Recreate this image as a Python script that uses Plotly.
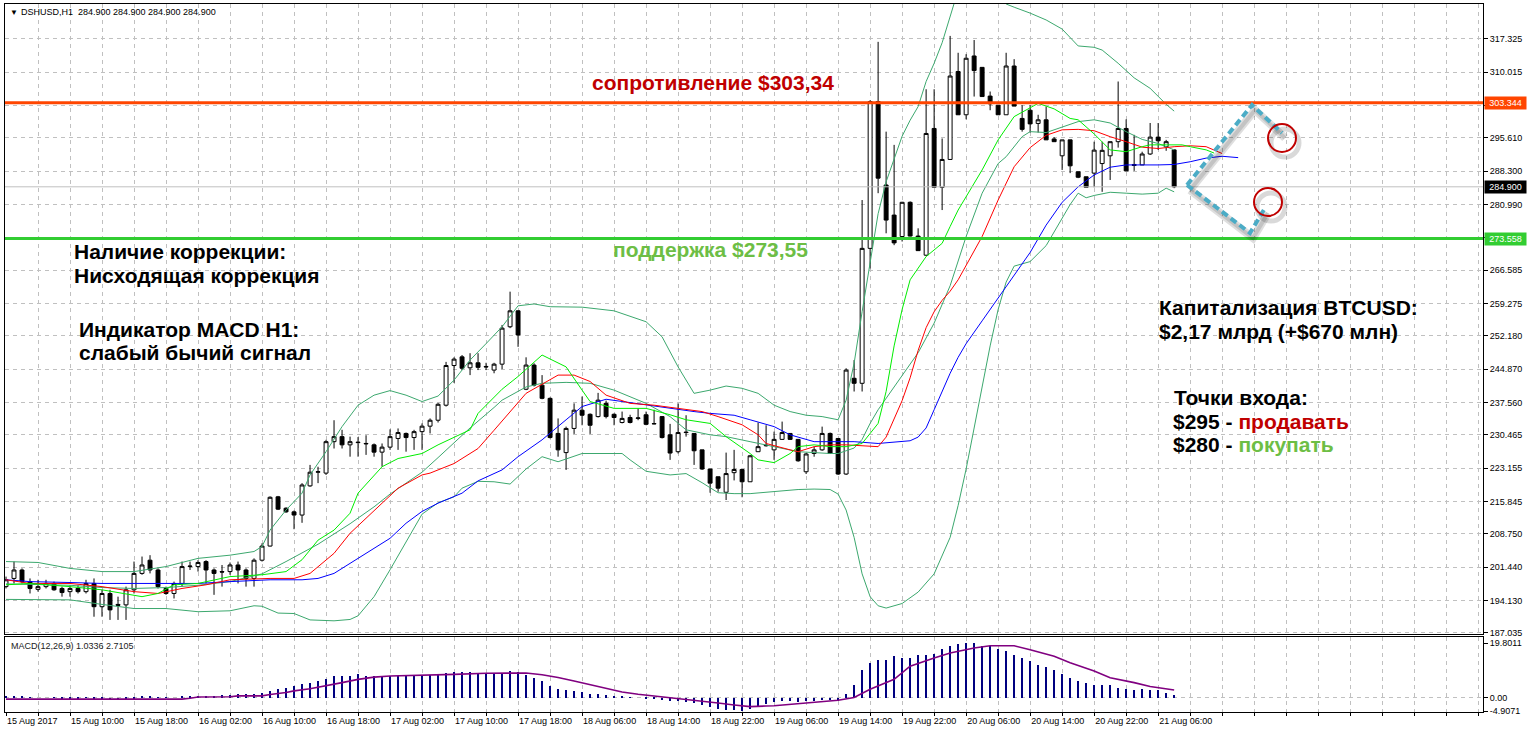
import plotly.graph_objects as go

# ---------------- DATA ----------------
OPEN = [197.2, 199.0, 200.85, 198.3, 196.6, 197.2, 197.9, 196.8, 196.1, 196.8,
        196.1, 197.9, 192.8, 195.7, 193.3, 193.2, 196.5, 200.1, 203.0, 200.85,
        196.8, 195.7, 197.9, 201.6, 201.6, 202.7, 200.85, 200.5, 200.5, 201.95,
        200.85, 199.0, 203.0, 206.1, 216.9, 214.4, 213.6, 212.9, 219.3, 222.3,
        222.1, 229.0, 230.1, 228.3, 228.9, 228.5, 228.3, 226.7, 227.8, 229.7,
        230.8, 229.9, 231.2, 232.4, 233.7, 237.0, 245.7, 247.6, 245.2, 246.3,
        245.5, 244.7, 246.0, 254.2, 257.7, 240.5, 245.8, 241.4, 238.5, 230.8,
        226.6, 231.9, 235.9, 235.0, 234.5, 237.4, 235.0, 233.2, 234.3, 234.1,
        234.9, 232.9, 234.5, 230.5, 226.8, 231.1, 230.8, 227.2, 223.0, 221.3,
        217.9, 222.2, 222.9, 220.2, 226.8, 228.1, 227.2, 229.5, 230.8, 229.5,
        222.4, 226.4, 227.2, 230.8, 229.7, 221.9, 242.9, 241.8, 271.4, 303.6,
        285.3, 278.7, 274.0, 281.5, 274.1, 269.9, 297.7, 284.8, 290.9, 310.2,
        300.7, 313.6, 311.1, 304.8, 302.8, 300.7, 311.4, 299.9, 301.7, 298.8,
        299.6, 295.4, 291.7, 295.2, 288.2, 287.1, 287.9, 290.0, 291.7, 294.8,
        297.7, 289.8, 289.7, 292.1, 295.8, 293.7, 293.0]
HIGH = [199.4, 202.7, 201.2, 199.0, 198.7, 198.7, 198.3, 197.2, 197.5, 197.5,
        198.7, 199.0, 196.5, 196.5, 195.0, 197.2, 202.7, 203.8, 204.1, 201.2,
        197.2, 198.3, 202.7, 202.7, 203.0, 203.0, 201.2, 201.95, 202.5, 202.7,
        201.2, 203.4, 206.7, 217.0, 217.1, 214.6, 213.9, 219.9, 223.9, 223.5,
        229.4, 233.7, 231.6, 230.1, 230.0, 230.4, 228.6, 228.6, 231.7, 231.9,
        231.0, 231.6, 233.0, 234.1, 237.5, 246.5, 247.5, 248.0, 248.4, 248.4,
        246.3, 246.3, 254.6, 261.9, 257.8, 247.5, 246.2, 243.6, 238.7, 234.1,
        232.3, 237.4, 238.9, 235.2, 239.7, 238.0, 235.2, 235.6, 234.9, 236.3,
        235.6, 236.0, 234.6, 232.9, 237.4, 234.8, 230.8, 227.2, 223.0, 221.3,
        226.6, 227.2, 222.9, 226.1, 233.2, 232.6, 231.2, 233.4, 230.8, 229.5,
        226.5, 227.9, 232.3, 231.0, 229.7, 245.1, 246.9, 282.0, 303.9, 316.7,
        297.0, 294.1, 281.6, 281.7, 275.8, 306.3, 306.3, 295.5, 318.0, 314.3,
        314.0, 317.1, 311.1, 305.8, 302.8, 314.3, 312.9, 302.8, 302.8, 300.7,
        302.5, 295.8, 295.2, 295.2, 288.2, 287.1, 294.8, 294.8, 294.8, 308.0,
        299.7, 296.3, 292.6, 298.9, 298.9, 295.2, 293.1]
LOW = [196.8, 197.9, 197.9, 195.7, 196.1, 196.8, 196.3, 195.0, 195.0, 195.7,
       195.7, 190.6, 190.6, 189.9, 189.9, 189.9, 195.7, 199.8, 200.1, 196.8,
       195.4, 194.6, 197.2, 200.85, 200.5, 197.9, 195.4, 197.2, 199.8, 197.9,
       197.2, 197.2, 202.7, 206.0, 214.0, 213.4, 209.8, 211.2, 219.1, 219.9,
       221.7, 227.5, 227.5, 225.7, 225.7, 226.1, 225.7, 223.5, 227.2, 227.2,
       226.8, 227.2, 227.2, 230.8, 233.2, 236.7, 241.9, 244.7, 243.6, 244.7,
       244.7, 244.0, 244.9, 253.9, 249.8, 240.3, 241.1, 238.3, 229.7, 225.7,
       222.8, 230.7, 232.6, 230.7, 234.3, 234.1, 232.6, 233.0, 233.0, 233.7,
       232.6, 232.8, 229.7, 225.0, 226.4, 230.1, 223.9, 222.8, 217.8, 218.0,
       216.2, 220.5, 216.8, 220.2, 226.8, 227.9, 225.0, 229.4, 229.4, 224.6,
       221.9, 225.7, 227.0, 226.3, 221.7, 221.7, 240.0, 240.0, 267.0, 283.5,
       274.7, 272.1, 272.9, 274.0, 270.9, 269.7, 284.8, 279.8, 290.8, 300.7,
       299.7, 304.7, 304.7, 301.7, 300.7, 300.7, 302.6, 297.0, 296.8, 296.8,
       295.2, 294.8, 288.6, 287.9, 286.8, 284.8, 284.8, 283.8, 286.4, 293.5,
       288.4, 288.4, 289.7, 291.9, 293.0, 292.8, 284.6]
CLOSE = [198.7, 200.85, 198.3, 196.8, 197.2, 197.9, 196.5, 195.9, 196.8, 196.1,
         197.9, 192.8, 195.7, 192.1, 193.1, 196.5, 200.1, 201.95, 200.85, 197.2,
         195.7, 197.9, 201.6, 201.7, 202.5, 200.85, 200.1, 200.4, 201.95, 200.85,
         199.0, 203.0, 206.1, 216.8, 214.2, 213.6, 212.9, 219.5, 222.3, 222.4,
         229.0, 230.1, 228.3, 229.0, 228.8, 228.6, 226.7, 227.8, 230.1, 231.0,
         229.9, 231.2, 232.4, 233.7, 237.2, 245.7, 247.1, 245.1, 246.3, 245.3,
         245.4, 246.0, 253.9, 257.7, 252.4, 245.8, 241.4, 238.5, 229.9, 227.2,
         231.9, 235.9, 234.8, 232.6, 238.1, 234.5, 234.3, 234.1, 233.2, 234.2,
         232.8, 232.95, 229.9, 226.5, 231.0, 231.0, 227.0, 223.0, 219.9, 218.8,
         222.0, 222.9, 220.2, 225.9, 227.9, 228.2, 229.5, 231.0, 229.5, 224.8,
         226.3, 227.2, 230.8, 226.4, 221.9, 244.7, 241.8, 271.4, 303.6, 286.8,
         277.6, 272.6, 281.5, 274.1, 270.9, 296.6, 284.8, 290.9, 309.2, 300.7,
         313.1, 310.4, 304.7, 303.1, 300.7, 311.4, 302.6, 297.5, 298.7, 299.6,
         295.2, 294.8, 295.2, 289.5, 287.0, 284.8, 292.95, 292.9, 294.8, 297.7,
         288.4, 289.6, 292.1, 295.8, 295.0, 294.8, 284.9]
BARS = list(range(len(CLOSE)))

# Bollinger Bands (upper / middle / lower), sampled at bar indices
BB_UP_X = [0, 4, 8, 12, 16, 20, 24, 28, 31, 32, 33, 35, 37, 38, 40, 42, 44, 46, 48, 50,
           52, 54, 56, 58, 60, 62, 64, 66, 68, 72, 76, 80, 82, 84, 86, 88, 90, 92, 94, 96,
           98, 100, 102, 104, 105, 106, 107, 108, 109, 110, 111, 112, 113, 114, 115, 116, 117,
           118, 119, 120, 122, 124, 125, 126, 128, 130, 132, 134, 136, 137, 139, 141, 143, 145, 146]
BB_UP_Y = [202.7, 202.5, 201.2, 200.5, 200.5, 201.6, 203.4, 204.1, 204.9, 206.0, 209.6, 214.0,
           217.7, 221.7, 226.8, 232.3, 237.0, 239.2, 240.2, 239.2, 237.8, 239.0, 242.5, 246.9,
           250.5, 254.2, 258.8, 259.2, 258.6, 258.5, 257.7, 255.3, 252.0, 245.4, 239.6, 240.3,
           241.2, 240.7, 239.6, 237.0, 235.6, 234.8, 234.5, 233.8, 238.1, 246.2, 257.5, 268.0,
           279.0, 286.0, 291.0, 296.0, 299.5, 302.5, 308.0, 312.0, 316.5, 322.0, 328.0, 331.0,
           331.0, 328.0, 325.0, 324.3, 323.0, 321.5, 319.5, 315.8, 315.5, 314.9, 312.0, 308.8,
           306.5, 303.0, 301.5]
BB_MID_X = [0, 4, 8, 12, 16, 20, 24, 28, 32, 35, 39, 43, 46, 48, 52, 54, 58, 61, 62, 65,
            67, 70, 73, 76, 80, 83, 85, 88, 90, 93, 96, 99, 103, 104, 105, 106, 107, 108, 109,
            110, 112, 114, 116, 118, 120, 122, 124, 125, 127, 128, 130, 132, 134, 136, 138, 140,
            142, 144, 146]
BB_MID_Y = [197.8, 197.7, 197.5, 197.0, 196.8, 197.0, 197.5, 198.3, 200.0, 202.7, 206.5, 211.0,
            214.7, 217.5, 222.3, 225.5, 232.0, 236.5, 238.1, 241.0, 241.8, 242.0, 241.8, 240.3,
            237.4, 234.5, 231.6, 230.5, 230.1, 229.0, 227.9, 226.8, 226.4, 226.4, 227.0, 227.6,
            229.5, 233.0, 236.0, 238.5, 243.5, 248.5, 255.0, 263.2, 274.0, 283.5, 290.0, 291.5,
            295.9, 297.0, 296.8, 298.0, 299.2, 299.6, 298.9, 297.0, 295.3, 294.4, 293.0]
BB_LOW_X = [0, 4, 8, 12, 16, 20, 24, 28, 31, 32, 34, 36, 38, 41, 43, 44, 46, 48, 50, 52,
            54, 56, 57, 59, 61, 63, 65, 67, 69, 72, 77, 78, 80, 83, 85, 87, 89, 91, 93, 95,
            97, 99, 101, 103, 104, 105, 106, 107, 108, 109, 110, 112, 114, 116, 118, 119, 120,
            121, 122, 123, 124, 125, 126, 128, 130, 132, 133, 134, 135, 136, 138, 140, 142, 144,
            145, 146]
BB_LOW_Y = [194.4, 194.4, 194.3, 193.3, 192.4, 192.4, 191.7, 191.9, 193.0, 192.9, 191.4, 191.3,
            189.9, 189.7, 190.0, 190.8, 195.0, 200.9, 207.1, 213.1, 215.6, 216.9, 218.8, 220.3,
            220.2, 219.7, 223.0, 225.7, 224.6, 226.4, 226.4, 225.0, 222.5, 221.7, 222.0, 220.0,
            217.8, 217.6, 217.6, 217.9, 218.2, 218.5, 218.6, 218.5, 217.5, 214.0, 208.0, 200.0,
            195.0, 193.0, 192.5, 193.5, 196.0, 200.0, 208.0, 215.0, 223.0, 232.0, 241.0, 250.0,
            258.0, 264.0, 267.5, 268.5, 272.0, 278.0, 281.0, 283.5, 282.5, 283.0, 283.7, 283.5,
            283.3, 283.5, 284.6, 283.8]

# Alligator: lips (lime), teeth (red), jaw (blue) — shifted forward
LIPS_X = [0, 3, 8, 12, 17, 19, 21, 24, 28, 32, 35, 37, 39, 41, 43, 44, 47, 49, 52, 54,
          58, 59, 62, 64, 67, 70, 72, 73, 76, 80, 83, 85, 88, 90, 93, 94, 96, 98, 99, 101,
          103, 105, 107, 109, 110, 111, 112, 113, 115, 117, 118, 119, 122, 124, 126, 129, 131,
          133, 134, 136, 138, 140, 142, 143, 145, 147, 148, 150, 151]
LIPS_Y = [197.6, 197.9, 197.2, 196.5, 195.0, 195.7, 197.6, 197.9, 199.4, 199.8, 200.5, 203.1,
          207.4, 209.6, 213.3, 217.7, 223.5, 225.3, 226.4, 228.3, 231.6, 235.2, 240.5, 243.3,
          248.0, 245.4, 240.3, 237.8, 236.3, 236.3, 234.9, 233.8, 233.0, 230.1, 226.4, 225.0,
          224.4, 226.4, 227.9, 228.3, 227.9, 227.9, 228.6, 233.0, 240.0, 250.0, 258.0, 264.5,
          269.6, 272.5, 276.2, 279.8, 288.6, 295.2, 300.3, 303.2, 302.0, 299.9, 299.6, 296.5,
          293.0, 292.6, 293.7, 294.1, 294.1, 294.1, 293.7, 293.0, 292.3]
TEETH_X = [0, 3, 8, 12, 16, 19, 22, 25, 28, 33, 36, 38, 41, 43, 47, 49, 52, 53, 56, 59,
           61, 63, 65, 69, 71, 73, 75, 78, 81, 84, 87, 89, 92, 94, 95, 98, 99, 101, 103, 105,
           109, 110, 111, 112, 113, 114, 115, 116, 117, 118, 119, 122, 124, 126, 128, 130, 132,
           134, 136, 138, 140, 142, 144, 146, 148, 150, 152]
TEETH_Y = [198.7, 197.9, 197.9, 197.2, 196.1, 195.7, 196.8, 197.6, 198.7, 199.0, 199.0, 200.1,
           204.5, 208.9, 215.5, 218.8, 221.7, 222.1, 224.2, 227.5, 231.5, 235.5, 239.6, 243.6,
           243.6, 242.2, 239.2, 237.4, 237.0, 236.3, 235.6, 234.5, 232.7, 230.5, 228.6, 227.2,
           226.8, 227.9, 228.3, 228.3, 227.9, 230.0, 234.0, 238.0, 243.0, 249.0, 254.0, 257.5,
           260.0, 262.0, 264.5, 274.0, 282.0, 289.3, 293.5, 296.2, 297.4, 297.5, 297.2, 295.9,
           294.8, 293.6, 293.3, 293.7, 293.9, 293.7, 292.2]
JAW_X = [0, 3, 8, 12, 16, 20, 24, 28, 33, 37, 39, 41, 45, 48, 50, 52, 54, 57, 59, 62,
         64, 67, 70, 72, 75, 77, 80, 83, 86, 88, 91, 93, 96, 98, 101, 103, 106, 109, 113, 114,
         115, 116, 117, 118, 119, 120, 122, 124, 126, 128, 130, 132, 134, 136, 138, 140, 144,
         146, 148, 150, 152, 154]
JAW_Y = [198.7, 198.3, 198.1, 197.9, 197.9, 197.9, 197.9, 198.3, 198.7, 198.7, 199.0, 200.1,
         204.5, 207.8, 211.1, 213.7, 215.5, 217.7, 220.4, 222.8, 225.7, 229.4, 233.8, 236.7,
         238.3, 237.8, 237.0, 236.3, 235.6, 235.2, 234.8, 233.8, 232.3, 230.5, 229.0, 229.0,
         229.0, 228.6, 229.2, 230.0, 232.0, 236.0, 240.0, 244.0, 247.5, 250.5, 255.5, 260.5,
         265.5, 270.5, 276.5, 281.5, 284.9, 287.5, 289.2, 289.7, 289.7, 289.8, 290.4, 291.2,
         291.6, 291.3]

# MACD(12,26,9): histogram per bar + signal line
MACD_HIST = [0.3, 0.4, 0.3, 0.1, 0.0, 0.0, -0.1, -0.2, -0.2, -0.2,
             -0.1, -0.5, -0.6, -0.8, -0.8, -0.6, -0.2, 0.2, 0.3, 0.1,
             -0.1, 0.0, 0.3, 0.5, 0.6, 0.6, 0.6, 0.8, 1.0, 1.2,
             1.4, 1.4, 1.8, 2.4, 3.0, 3.6, 4.2, 4.8, 5.4, 6.0,
             6.6, 7.8, 8.0, 8.0, 8.4, 7.8, 7.8, 7.8, 7.8, 7.9,
             8.0, 8.1, 8.2, 8.3, 8.5, 9.0, 9.3, 9.2, 9.1, 8.9,
             8.6, 8.5, 9.0, 9.5, 9.2, 8.2, 7.2, 6.0, 4.3, 3.0,
             2.6, 2.3, 1.9, 1.4, 1.3, 0.9, 0.6, 0.3, 0.1, 0.0,
             -0.3, -0.5, -0.9, -1.4, -1.4, -1.5, -1.9, -2.6, -3.5, -4.2,
             -4.5, -4.4, -4.9, -4.3, -3.5, -2.5, -1.6, -1.4, -1.3, -1.5,
             -1.4, -1.1, -0.8, -0.8, -1.1, 1.2, 4.4, 9.9, 12.6, 13.8,
             13.8, 15.0, 14.4, 14.2, 15.6, 15.6, 16.0, 17.6, 18.6, 19.6,
             19.8, 19.8, 18.8, 18.6, 17.6, 17.0, 15.6, 14.4, 13.4, 12.0,
             11.0, 9.9, 8.4, 7.0, 6.0, 5.4, 4.4, 4.4, 4.4, 3.6,
             3.0, 2.6, 3.0, 2.6, 2.6, 1.6, 1.03]
SIGNAL_X = [0, 11, 12, 19, 20, 22, 23, 24, 28, 29, 32, 33, 35, 36, 38, 40, 42, 44, 46, 48,
            52, 56, 60, 63, 65, 67, 69, 71, 73, 75, 77, 79, 81, 83, 85, 87, 89, 91, 93, 95,
            96, 100, 104, 106, 108, 111, 113, 116, 118, 121, 123, 126, 128, 131, 133, 136,
            138, 141, 143, 146]
SIGNAL_Y = [-0.6, -0.6, -0.84, -0.84, -0.6, -0.6, -0.25, 0.2, 0.25, 0.6, 0.6, 1.1, 1.8, 2.4,
            3.2, 4.2, 5.4, 6.6, 7.4, 7.8, 8.0, 8.4, 8.8, 9.0, 8.9, 8.3, 7.3, 6.0, 4.6, 3.2,
            2.0, 1.2, 0.6, -0.1, -0.7, -1.2, -2.0, -2.7, -3.3, -3.1, -3.0, -2.0, -1.0, 0.0,
            3.0, 6.6, 11.4, 14.4, 16.2, 18.0, 18.8, 18.8, 17.4, 15.0, 12.6, 9.6, 7.2, 5.4,
            4.0, 2.71]

PRICE_TICKS = [317.325, 310.015, 302.705, 295.610, 288.300, 280.990, 273.680, 266.585,
               259.275, 252.180, 244.870, 237.560, 230.465, 223.155, 215.845, 208.750,
               201.440, 194.130, 187.035]
TIME_LABELS = ["15 Aug 2017", "15 Aug 10:00", "15 Aug 18:00", "16 Aug 02:00", "16 Aug 10:00",
               "16 Aug 18:00", "17 Aug 02:00", "17 Aug 10:00", "17 Aug 18:00", "18 Aug 06:00",
               "18 Aug 14:00", "18 Aug 22:00", "19 Aug 06:00", "19 Aug 14:00", "19 Aug 22:00",
               "20 Aug 06:00", "20 Aug 14:00", "20 Aug 22:00", "21 Aug 06:00"]
LABEL_STEP = 8
GRID_STEP = 4

RESISTANCE = 303.344
SUPPORT = 273.558
LAST_PRICE = 284.900
MACD_MAX = 19.8011
MACD_MIN = -4.9071
MACD_VALS = (1.0336, 2.7105)

# ---------------- GEOMETRY ----------------
W, H = 1528, 736
PL, PR, PT, PB = 5, 1483, 4, 712
MAIN_BOT = 634
MACD_TOP = 637
X_MIN, X_MAX = -0.125, 184.6
Y_MIN, Y_MAX = 186.81, 325.0
M_MIN, M_MAX = -5.27, 22.0
FONT = "Liberation Sans, Arial, sans-serif"


def xp(px):
    return (px - PL) / (PR - PL)


def yp(py):
    return (PB - py) / (PB - PT)


def bar_at(px):
    return X_MIN + (px - PL) / (PR - PL) * (X_MAX - X_MIN)


def price_at(py):
    return Y_MAX - (py - PT) / (MAIN_BOT - PT) * (Y_MAX - Y_MIN)


fig = go.Figure()

fig.add_trace(go.Candlestick(
    x=BARS, open=OPEN, high=HIGH, low=LOW, close=CLOSE,
    increasing=dict(line=dict(color="black", width=1), fillcolor="white"),
    decreasing=dict(line=dict(color="black", width=1), fillcolor="black"),
    whiskerwidth=0, hoverinfo="skip", xaxis="x", yaxis="y"))

BB_COL = "#3CA86E"
for xs, ys, col in [(BB_UP_X, BB_UP_Y, BB_COL), (BB_MID_X, BB_MID_Y, BB_COL),
                    (BB_LOW_X, BB_LOW_Y, BB_COL), (JAW_X, JAW_Y, "#0000FF"),
                    (TEETH_X, TEETH_Y, "#FF0000"), (LIPS_X, LIPS_Y, "#00EE00")]:
    fig.add_trace(go.Scatter(x=xs, y=ys, mode="lines", line=dict(color=col, width=1),
                             hoverinfo="skip", xaxis="x", yaxis="y"))

fig.add_trace(go.Bar(x=BARS, y=MACD_HIST, width=0.14, marker=dict(color="#000080", line=dict(width=0)),
                     hoverinfo="skip", xaxis="x2", yaxis="y2"))
fig.add_trace(go.Scatter(x=SIGNAL_X, y=SIGNAL_Y, mode="lines", line=dict(color="#800080", width=1.6),
                         hoverinfo="skip", xaxis="x2", yaxis="y2"))

grid_vals = list(range(0, int(X_MAX) + 1, GRID_STEP))
grid_text = []
for v in grid_vals:
    k = v // LABEL_STEP
    grid_text.append(TIME_LABELS[k] if v % LABEL_STEP == 0 and k < len(TIME_LABELS) else "")

shapes = []
# price level lines
shapes.append(dict(type="line", xref="paper", yref="y", x0=0, x1=1, y0=LAST_PRICE, y1=LAST_PRICE,
                   line=dict(color="#C0C0C0", width=1), layer="above"))
shapes.append(dict(type="line", xref="paper", yref="y", x0=0, x1=1, y0=RESISTANCE, y1=RESISTANCE,
                   line=dict(color="#FF4500", width=3), layer="above"))
shapes.append(dict(type="line", xref="paper", yref="y", x0=0, x1=1, y0=SUPPORT, y1=SUPPORT,
                   line=dict(color="#32CD32", width=3), layer="above"))
# MACD zero grid line
shapes.append(dict(type="line", xref="x2", yref="y2", x0=X_MIN, x1=X_MAX, y0=0, y1=0,
                   line=dict(color="#C0C0C0", width=1, dash="4px,4px"), layer="below"))

# dashed arrows (pixel geometry of the drawing) with soft shadow
ARROWS_PX = [[(1187, 185), (1252, 105), (1282, 133)],
             [(1187, 185), (1250, 233), (1265, 208)]]
CIRCLES_PX = [(1282, 138), (1268, 202)]
CIRCLE_R = 14


def path_of(pts, dx=0, dy=0):
    return "M " + " L ".join(f"{bar_at(px + dx)},{price_at(py + dy)}" for px, py in pts)


for pts in ARROWS_PX:
    shapes.append(dict(type="path", xref="x", yref="y", path=path_of(pts, 3, 5),
                       line=dict(color="rgba(0,0,0,0.13)", width=8)))
    shapes.append(dict(type="path", xref="x", yref="y", path=path_of(pts, 3, 5),
                       line=dict(color="rgba(0,0,0,0.12)", width=4)))
for cx, cy in CIRCLES_PX:
    shapes.append(dict(type="circle", xref="x", yref="y",
                       x0=bar_at(cx - CIRCLE_R + 3), x1=bar_at(cx + CIRCLE_R + 3),
                       y0=price_at(cy + CIRCLE_R + 5), y1=price_at(cy - CIRCLE_R + 5),
                       line=dict(color="rgba(0,0,0,0.15)", width=5)))
for pts in ARROWS_PX:
    shapes.append(dict(type="path", xref="x", yref="y", path=path_of(pts),
                       line=dict(color="#4BACC6", width=4, dash="7px,4px")))
for cx, cy in CIRCLES_PX:
    shapes.append(dict(type="circle", xref="x", yref="y",
                       x0=bar_at(cx - CIRCLE_R), x1=bar_at(cx + CIRCLE_R),
                       y0=price_at(cy + CIRCLE_R), y1=price_at(cy - CIRCLE_R),
                       line=dict(color="#C00000", width=2)))

RED = "#C00000"
GREEN = "#6DBE45"


def txt(px, py, text, size=21, color="black", bold=True):
    return dict(xref="paper", yref="paper", x=xp(px), y=yp(py), xanchor="left", yanchor="middle",
                text=f"<b>{text}</b>" if bold else text, showarrow=False,
                font=dict(family=FONT, size=size, color=color))


annotations = [
    txt(8, 12, "▼", size=8, bold=False),
    txt(19, 12, f"DSHUSD,H1  {LAST_PRICE:.3f} {LAST_PRICE:.3f} {LAST_PRICE:.3f} {LAST_PRICE:.3f}",
        size=9, bold=False),
    txt(9, 646, f"MACD(12,26,9) {MACD_VALS[0]:.4f} {MACD_VALS[1]:.4f}", size=9, color="#222", bold=False),
    txt(590, 82, "сопротивление $303,34", color=RED),
    txt(611, 250, "поддержка $273,55", color=GREEN),
    txt(72, 251, "Наличие коррекции:"),
    txt(72, 275, "Нисходящая коррекция"),
    txt(77, 329, "Индикатор MACD H1:"),
    txt(77, 352, "слабый бычий сигнал"),
    txt(1157, 307, "Капитализация BTCUSD:"),
    txt(1157, 331, "$2,17 млрд (+$670 млн)"),
    txt(1172, 398, "Точки входа:"),
    txt(1171, 421, f"$295 - <span style='color:{RED}'>продавать</span>"),
    txt(1171, 444, f"$280 - <span style='color:{GREEN}'>покупать</span>"),
]
for level, bg in [(RESISTANCE, "#FF4500"), (SUPPORT, "#32CD32"), (LAST_PRICE, "#000000")]:
    annotations.append(dict(xref="paper", yref="y", x=1, y=level, xanchor="left", yanchor="middle",
                            xshift=1, text=f"{level:.3f}", showarrow=False, bgcolor=bg,
                            width=41, height=12, borderpad=0,
                            font=dict(family=FONT, size=9, color="white")))

axis_common = dict(showline=True, mirror=True, linecolor="black", linewidth=1, zeroline=False,
                   automargin=False)

fig.update_layout(
    width=W, height=H, margin=dict(l=PL, r=W - PR, t=PT, b=H - PB, autoexpand=False),
    paper_bgcolor="white", plot_bgcolor="white", showlegend=False, bargap=0,
    xaxis=dict(domain=[0, 1], anchor="y", range=[X_MIN, X_MAX], tickmode="array",
               tickvals=grid_vals, showticklabels=False, ticks="", showgrid=True,
               gridcolor="#C0C0C0", griddash="4px,4px", gridwidth=1,
               rangeslider=dict(visible=False), **axis_common),
    xaxis2=dict(domain=[0, 1], anchor="y2", matches="x", range=[X_MIN, X_MAX], tickmode="array",
                tickvals=grid_vals, ticktext=grid_text, ticks="outside", ticklen=3,
                tickcolor="black", ticklabelposition="outside right", showgrid=True,
                gridcolor="#C0C0C0", griddash="4px,4px", gridwidth=1,
                tickfont=dict(family=FONT, size=9, color="black"), **axis_common),
    yaxis=dict(domain=[yp(MAIN_BOT), 1], anchor="x", side="right", range=[Y_MIN, Y_MAX],
               tickmode="array", tickvals=PRICE_TICKS, ticktext=[f"{v:.3f}" for v in PRICE_TICKS],
               ticks="outside", ticklen=4, tickcolor="black", showgrid=True,
               gridcolor="#C0C0C0", griddash="4px,4px", gridwidth=1,
               tickfont=dict(family=FONT, size=9, color="black"), **axis_common),
    yaxis2=dict(domain=[0, yp(MACD_TOP)], anchor="x2", side="right", range=[M_MIN, M_MAX],
                tickmode="array", tickvals=[MACD_MAX, 0, MACD_MIN],
                ticktext=[f"{MACD_MAX:.4f}", "0.00", f"{MACD_MIN:.4f}"],
                ticks="outside", ticklen=4, tickcolor="black", showgrid=False,
                tickfont=dict(family=FONT, size=9, color="black"), **axis_common),
    shapes=shapes, annotations=annotations,
)

fig.write_html("out.html", config={"displayModeBar": False},
               post_script="document.body.style.margin='0';document.body.style.overflow='hidden';")
